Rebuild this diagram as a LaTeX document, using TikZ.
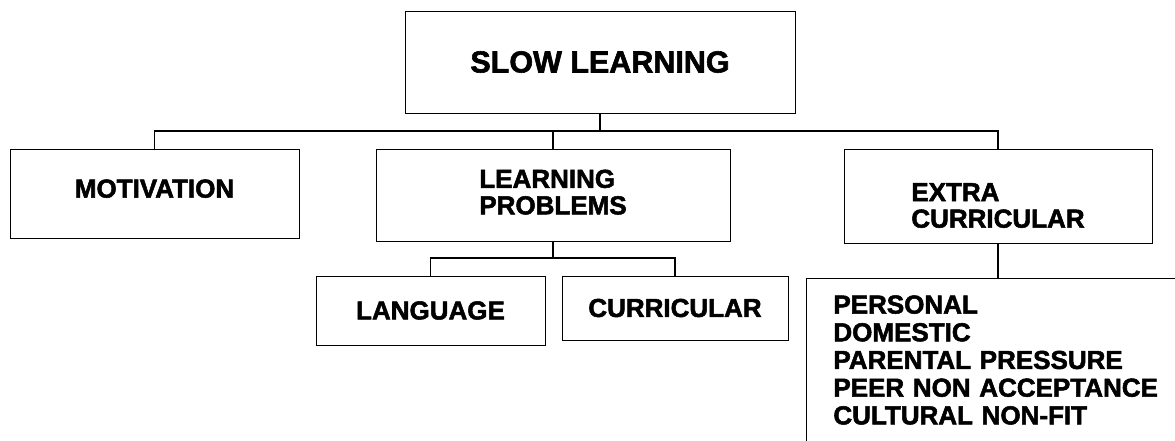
\documentclass[tikz,border=0pt]{standalone}
\usepackage{fontspec}
\setmainfont{Liberation Sans}[BoldFeatures={FakeBold=2}]
\begin{document}
\begin{tikzpicture}[x=1pt, y=-1pt,
        box/.style={draw=black, line width=0.8pt, inner sep=0pt, font=\fontsize{26}{26.5}\selectfont\bfseries},
        wire/.style={draw=black, line width=1.3pt}]
\useasboundingbox (0,0) rectangle (1175,440);
\clip (0,0) rectangle (1175,440);
\node[box, minimum width=390pt, minimum height=102pt, font=\fontsize{30.5}{31}\selectfont\bfseries] (slow) at (600,62) {SLOW LEARNING};
\node[box, minimum width=289pt, minimum height=89pt, text depth=10pt] (motiv) at (154.5,193.5) {MOTIVATION};
\node[box, minimum width=354pt, minimum height=92pt, align=left] (lp) at (553,195) {LEARNING\\PROBLEMS\rule[-6pt]{0pt}{0pt}};
\node[box, minimum width=308pt, minimum height=94pt, align=left] (ec) at (998,196) {\rule{0pt}{37pt}EXTRA\\CURRICULAR};
\node[box, minimum width=229pt, minimum height=69pt] (lang) at (430.5,310.5) {LANGUAGE\hspace{9pt}};
\node[box, minimum width=226pt, minimum height=64pt] (curr) at (675,308) {CURRICULAR};
\node[box, anchor=north west, text width=360pt, inner xsep=27pt, inner ysep=17pt,
      align=left, font=\fontsize{26}{27.7}\selectfont\bfseries] (list) at (806,278)
      {PERSONAL\\DOMESTIC\\PARENTAL PRESSURE\\PEER NON ACCEPTANCE\\CULTURAL NON-FIT\rule[-40pt]{0pt}{0pt}};
\coordinate (bus) at (0,131);
\coordinate (subbus) at (0,258);
\draw[wire] (slow.south) -- (slow.south |- bus);
\draw[wire] (motiv.north) -- (motiv.north |- bus) -- (ec.north |- bus) -- (ec.north);
\draw[wire] (lp.north) -- (lp.north |- bus);
\draw[wire] (lp.south) -- (lp.south |- subbus);
\draw[wire] (lang.north) -- (lang.north |- subbus) -- (curr.north |- subbus) -- (curr.north);
\draw[wire] (ec.south) -- (ec.south |- list.north);
\end{tikzpicture}
\end{document}
